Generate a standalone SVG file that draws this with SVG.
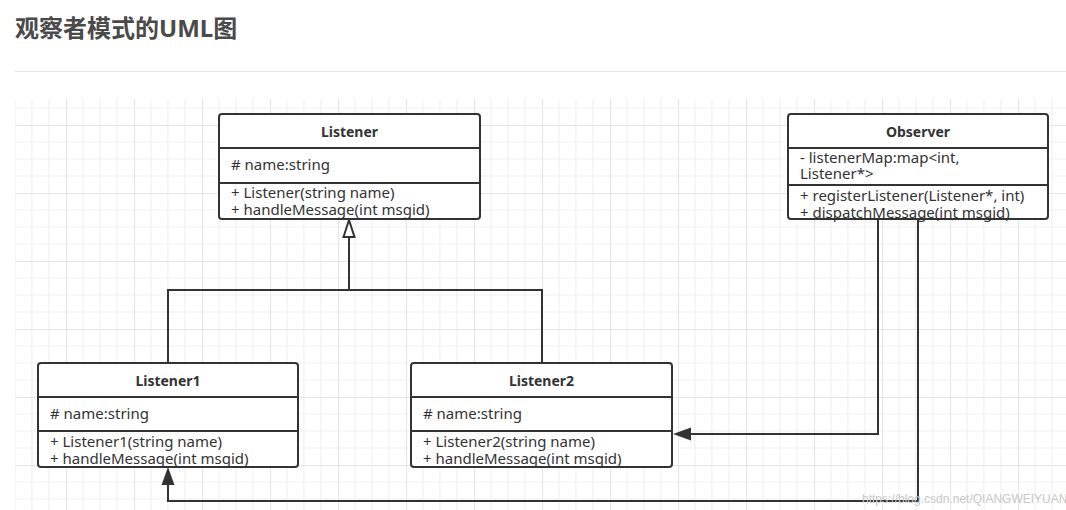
<svg xmlns="http://www.w3.org/2000/svg" width="1066" height="510" viewBox="0 0 1066 510">
  <style>
    .title{font-family:"Noto Sans","Noto Sans CJK SC",sans-serif;font-weight:bold;font-size:24px;fill:#4a4a4a}
    .box{fill:#ffffff;stroke:#333333;stroke-width:2}
    .div{stroke:#333333;stroke-width:2}
    .cname{font-family:"Noto Sans",sans-serif;font-weight:bold;font-size:14px;fill:#333333;text-anchor:middle}
    .member{font-family:"Noto Sans",sans-serif;font-size:15px;fill:#333333}
    .conn{fill:none;stroke:#333333;stroke-width:2}
    .wm{font-family:"Liberation Sans",Arial,sans-serif;font-size:12px;fill:#c8c8c8}
  </style>
  <defs>
    <pattern id="grid" x="66" y="125" width="68" height="68" patternUnits="userSpaceOnUse">
      <path d="M17,0V68M34,0V68M51,0V68M0,17H68M0,34H68M0,51H68" stroke="#f1f1f1" stroke-width="1.2" fill="none"/>
      <path d="M0.5,0V68M0,0.5H68" stroke="#e6e6e6" stroke-width="1.2" fill="none"/>
    </pattern>
  </defs>
  <rect width="1066" height="510" fill="#ffffff"/>
  <text class="title" x="15" y="37">观察者模式的UML图</text>
  <line x1="15" y1="71.5" x2="1066" y2="71.5" stroke="#e3e3e3" stroke-width="1"/>
  <rect x="15" y="99" width="1051" height="411" fill="url(#grid)"/>

  <g id="connectors">
    <path class="conn" d="M168,363V290H542V363M349,290V236"/>
    <polygon points="349,220 343.5,237 354.5,237" fill="#ffffff" stroke="#333333" stroke-width="2"/>
    <path class="conn" d="M878,219V434H690"/>
    <polygon points="673,434 691,427.5 691,440.5" fill="#333333"/>
    <path class="conn" d="M918,219V501H168V484"/>
    <polygon points="168,467 161.5,485 174.5,485" fill="#333333"/>
  </g>

  <g id="Listener">
    <rect class="box" x="219" y="114" width="261" height="105" rx="3"/>
    <line class="div" x1="219" y1="148" x2="480" y2="148"/>
    <line class="div" x1="219" y1="183" x2="480" y2="183"/>
    <text class="cname" x="349.5" y="137">Listener</text>
    <text class="member" x="231" y="170"># name:string</text>
    <text class="member" x="231" y="198">+ Listener(string name)</text>
    <text class="member" x="231" y="215">+ handleMessage(int msgid)</text>
  </g>

  <g id="Observer">
    <rect class="box" x="788" y="114" width="260" height="105" rx="3"/>
    <line class="div" x1="788" y1="148" x2="1048" y2="148"/>
    <line class="div" x1="788" y1="185" x2="1048" y2="185"/>
    <text class="cname" x="918" y="137">Observer</text>
    <text class="member" x="800" y="163">- listenerMap:map&lt;int,</text>
    <text class="member" x="800" y="179">Listener*&gt;</text>
    <text class="member" x="800" y="201">+ registerListener(Listener*, int)</text>
    <text class="member" x="800" y="218">+ dispatchMessage(int msgid)</text>
  </g>

  <g id="Listener1">
    <rect class="box" x="38" y="363" width="260" height="104" rx="3"/>
    <line class="div" x1="38" y1="397" x2="298" y2="397"/>
    <line class="div" x1="38" y1="431" x2="298" y2="431"/>
    <text class="cname" x="168" y="386">Listener1</text>
    <text class="member" x="50" y="419"># name:string</text>
    <text class="member" x="50" y="447">+ Listener1(string name)</text>
    <text class="member" x="50" y="464">+ handleMessage(int msgid)</text>
  </g>

  <g id="Listener2">
    <rect class="box" x="411" y="363" width="261" height="104" rx="3"/>
    <line class="div" x1="411" y1="397" x2="672" y2="397"/>
    <line class="div" x1="411" y1="431" x2="672" y2="431"/>
    <text class="cname" x="541.5" y="386">Listener2</text>
    <text class="member" x="423" y="419"># name:string</text>
    <text class="member" x="423" y="447">+ Listener2(string name)</text>
    <text class="member" x="423" y="464">+ handleMessage(int msgid)</text>
  </g>

  <text class="wm" x="862" y="503">https://blog.csdn.net/QIANGWEIYUAN</text>
</svg>
